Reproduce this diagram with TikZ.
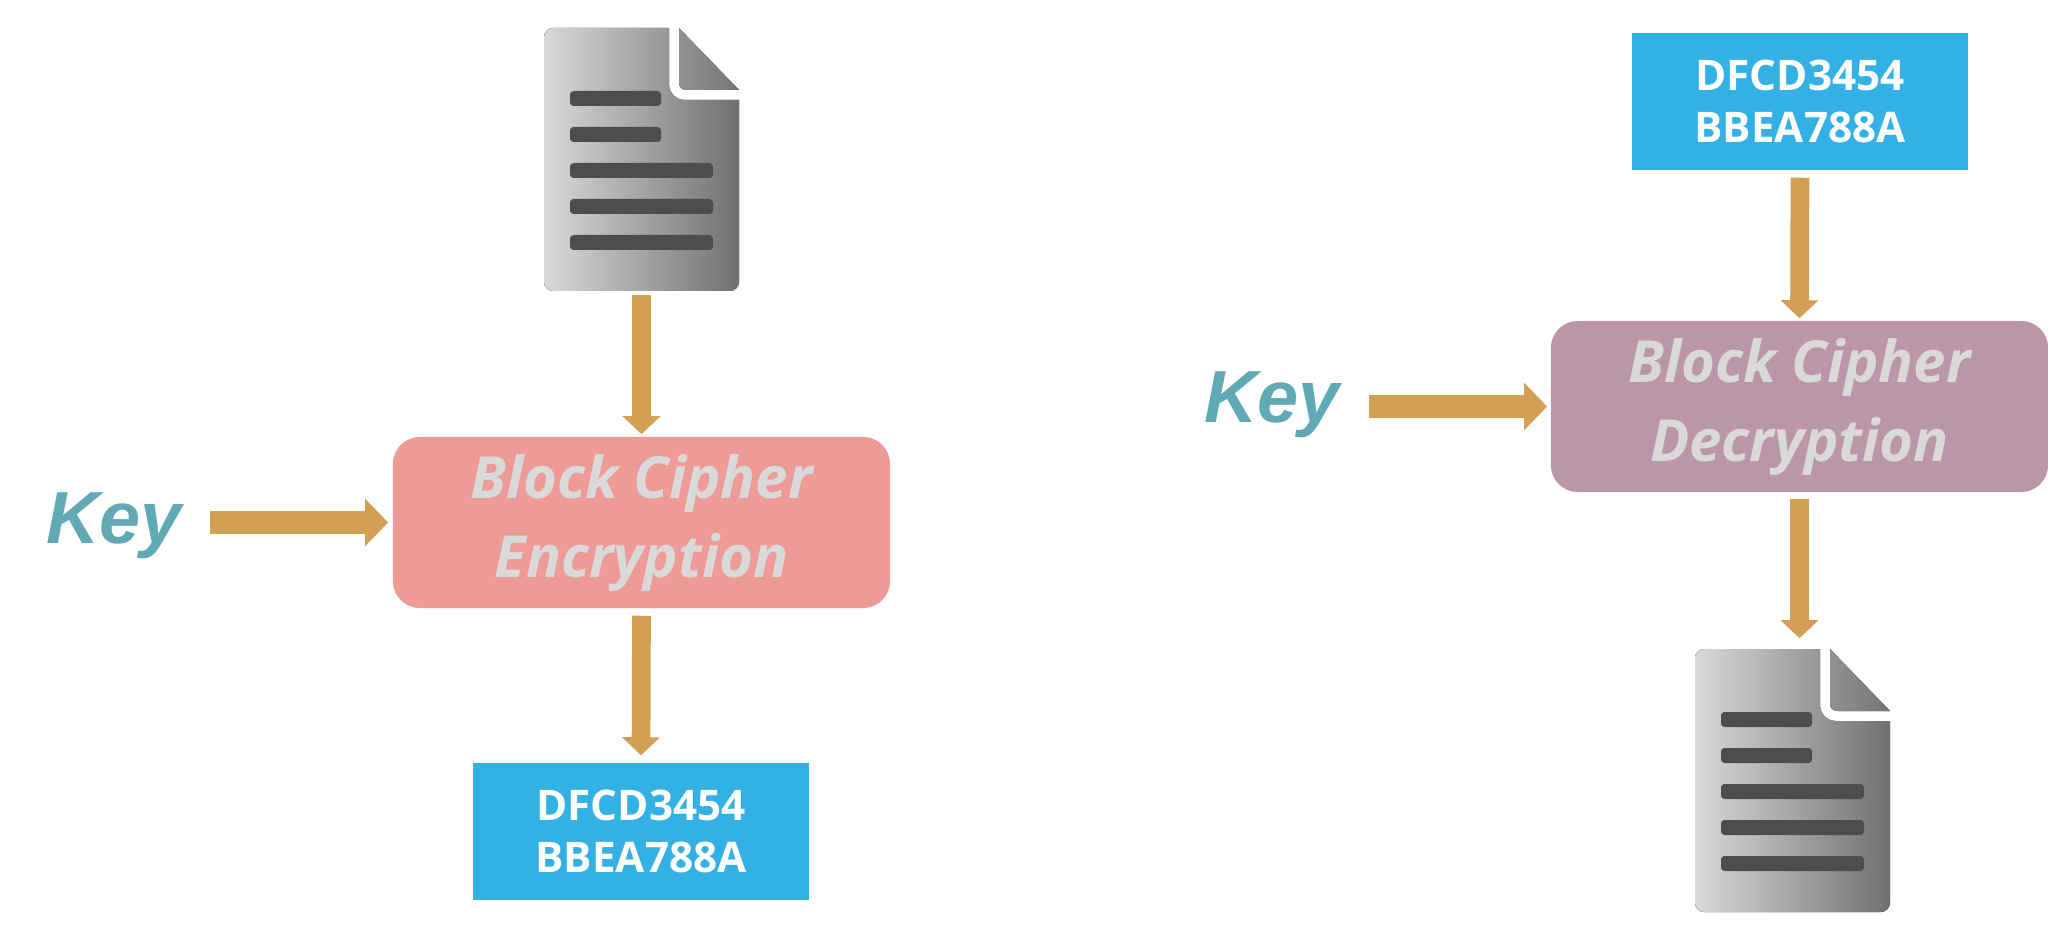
\documentclass[tikz,border=0pt]{standalone}
\usepackage{fontspec}
\setmainfont{Open Sans}
\newfontfamily\keyfont{Liberation Sans}
\usepackage{xcolor}
\usetikzlibrary{arrows.meta}
\definecolor{encfill}{HTML}{EE9A97}
\definecolor{decfill}{HTML}{BA96A7}
\definecolor{cipfill}{HTML}{33B0E4}
\definecolor{arrfill}{HTML}{D2A054}
\definecolor{keyink}{HTML}{61AAB5}
\definecolor{blkink}{HTML}{D9D9D9}
\definecolor{lineink}{HTML}{4D4D4D}

\begin{document}
\begin{tikzpicture}[
  x=0.01cm, y=-0.01cm,
  blk/.style={rounded corners=0.27cm, minimum width=4.97cm, minimum height=1.71cm,
              inner sep=0pt, align=center, text=blkink,
              font=\fontsize{16.5}{22.5}\selectfont\bfseries\itshape},
  cip/.style={minimum width=3.36cm, minimum height=1.37cm, inner sep=0pt,
              align=center, fill=cipfill, text=white,
              font=\fontsize{12}{14.8}\selectfont\bfseries},
  keytxt/.style={anchor=base, inner sep=0pt, text=keyink,
                 font=\keyfont\fontsize{21}{25}\selectfont\bfseries\itshape},
  arr/.style={-{Triangle[length=0.18cm, width=0.37cm]}, line width=0.187cm, draw=arrfill},
  keyarr/.style={-{Triangle[length=0.23cm, width=0.46cm]}, line width=0.23cm, draw=arrfill},
  docicon/.pic={
    \node[minimum width=1.95cm, minimum height=2.63cm, inner sep=0pt] (-frame) at (0,0) {};
    \fill[left color=black!15, right color=black!56]
      (27.5,-131.5) [rounded corners=4.5pt] -- (27.5,-59.5) [sharp corners] -- (97.5,-59.5)
      [rounded corners=2.6pt] -- (97.5,131.5) -- (-97.5,131.5) -- (-97.5,-131.5)
      [sharp corners] -- cycle;
    \fill[left color=black!43, right color=black!54]
      (37.5,-131.5) [rounded corners=2pt] -- (37.5,-69.5) [sharp corners] -- (97.5,-69.5) -- cycle;
    \foreach \ypos/\xend in {-61/19.5, -25/19.5, 11/71.5, 47/71.5, 83/71.5}
      \fill[lineink, rounded corners=1pt] (-71.5,\ypos-7.5) rectangle (\xend,\ypos+7.5);
  }
]
\useasboundingbox (0,0) rectangle (2048,940);

\pic (plainA) at (641.5,159.5) {docicon};
\node[blk, fill=encfill] (enc) at (641.5,522.5) {Block Cipher\\Encryption};
\node[cip] (cipA) at (641,831.5) {DFCD3454\\BBEA788A};
\node[keytxt] (keyA) at (114,544) {Key};

\node[cip] (cipB) at (1800,101.5) {DFCD3454\\BBEA788A};
\node[blk, fill=decfill] (dec) at (1799.5,406.5) {Block Cipher\\Decryption};
\pic (plainB) at (1792.5,780.5) {docicon};
\node[keytxt] (keyB) at (1272,423) {Key};

\draw[arr, shorten <=0.03cm, shorten >=0.02cm] (plainA-frame.south) -- (enc.north);
\draw[arr, shorten <=0.07cm, shorten >=0.07cm] (enc.south) -- (cipA.north);
\draw[keyarr, shorten <=0.28cm, shorten >=0.04cm] (keyA.east |- enc.west) -- (enc.west);

\draw[arr, shorten <=0.07cm, shorten >=0.02cm] (cipB.south) -- (dec.north);
\draw[arr, shorten <=0.06cm, shorten >=0.10cm] (dec.south) -- (dec.south |- plainB-frame.north);
\draw[keyarr, shorten <=0.29cm, shorten >=0.03cm] (keyB.east |- dec.west) -- (dec.west);
\end{tikzpicture}
\end{document}
